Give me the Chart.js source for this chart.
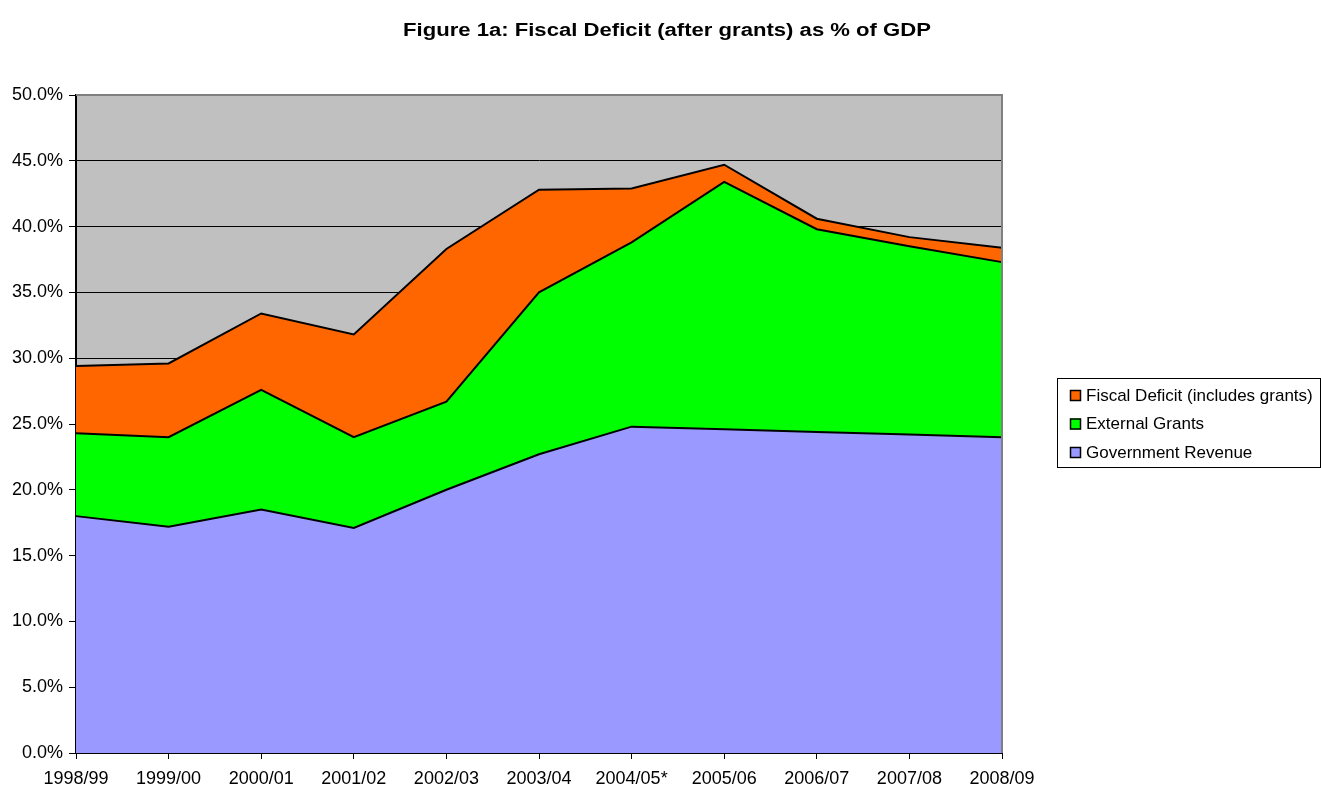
<!DOCTYPE html>
<html>
<head>
<meta charset="utf-8">
<title>Figure 1a: Fiscal Deficit (after grants) as % of GDP</title>
<script src="https://cdn.jsdelivr.net/npm/chart.js@4/dist/chart.umd.min.js"></script>
<style>
  html, body { margin: 0; padding: 0; background: #ffffff; }
  #wrap { position: relative; width: 1321px; height: 789px; }
</style>
</head>
<body>
<div id="wrap"><canvas id="c" width="1321" height="789"></canvas></div>
<script>
// Fiscal years
const years = ['1998/99', '1999/00', '2000/01', '2001/02', '2002/03', '2003/04',
               '2004/05*', '2005/06', '2006/07', '2007/08', '2008/09'];

// Shares of GDP (%), stacked bottom to top
const governmentRevenue = [18.0, 17.2, 18.5, 17.1, 20.0, 22.7, 24.8, 24.6, 24.4, 24.2, 24.0];
const externalGrants    = [6.3, 6.8, 9.1, 6.9, 6.7, 12.3, 14.0, 18.8, 15.4, 14.3, 13.3];
const fiscalDeficit     = [5.1, 5.6, 5.8, 7.8, 11.6, 7.8, 4.1, 1.3, 0.8, 0.7, 1.1];

const yTicks = [0, 5, 10, 15, 20, 25, 30, 35, 40, 45, 50];

const FONT = '"Liberation Sans", Arial, Helvetica, sans-serif';
const TITLE = 'Figure 1a: Fiscal Deficit (after grants) as % of GDP';

// Grey plot area with grey top/right frame
const plotBackground = {
  id: 'plotBackground',
  beforeDraw(chart) {
    const { ctx, chartArea: a } = chart;
    ctx.save();
    ctx.fillStyle = '#C0C0C0';
    ctx.fillRect(a.left, a.top, a.right - a.left, a.bottom - a.top);
    ctx.restore();
  },
  afterDatasetsDraw(chart) {
    const { ctx, chartArea: a } = chart;
    ctx.save();
    ctx.strokeStyle = '#808080';
    ctx.lineWidth = 2;
    ctx.beginPath();
    ctx.moveTo(a.left, a.top);
    ctx.lineTo(a.right, a.top);
    ctx.lineTo(a.right, a.bottom);
    ctx.stroke();
    ctx.restore();
  }
};

// Wide bold title above the plot
const titlePlugin = {
  id: 'titlePlugin',
  afterDraw(chart) {
    const { ctx } = chart;
    ctx.save();
    ctx.fillStyle = '#000';
    ctx.font = 'bold 18px ' + FONT;
    ctx.textAlign = 'center';
    ctx.textBaseline = 'middle';
    const sx = 528 / ctx.measureText(TITLE).width;
    ctx.translate(667, 31);
    ctx.scale(sx, 1);
    ctx.fillText(TITLE, 0, 0);
    ctx.restore();
  }
};

// Boxed legend to the right of the plot, top series first
const boxLegend = {
  id: 'boxLegend',
  afterDraw(chart) {
    const { ctx } = chart;
    const x = 1057, y = 378, w = 263, h = 89;
    ctx.save();
    ctx.strokeStyle = '#000';
    ctx.lineWidth = 1;
    ctx.strokeRect(x + 0.5, y + 0.5, w, h);
    ctx.font = '17px ' + FONT;
    ctx.textBaseline = 'middle';
    const items = chart.data.datasets.slice().reverse();
    items.forEach((ds, i) => {
      const cy = y + 17 + i * 28.5;
      ctx.fillStyle = ds.backgroundColor;
      ctx.fillRect(1070, cy - 5, 11, 11);
      ctx.strokeStyle = '#000';
      ctx.lineWidth = 1.5;
      ctx.strokeRect(1070.5, cy - 4.5, 10, 10);
      ctx.fillStyle = '#000';
      ctx.fillText(ds.label, 1086, cy + 1);
    });
    ctx.restore();
  }
};

const commonLine = {
  borderColor: '#000000',
  borderWidth: 2,
  pointRadius: 0,
  pointHoverRadius: 0,
  tension: 0
};

new Chart(document.getElementById('c'), {
  type: 'line',
  data: {
    labels: years,
    datasets: [
      Object.assign({ label: 'Government Revenue', data: governmentRevenue,
        backgroundColor: '#9999FF', fill: 'origin' }, commonLine),
      Object.assign({ label: 'External Grants', data: externalGrants,
        backgroundColor: '#00FF00', fill: '-1' }, commonLine),
      Object.assign({ label: 'Fiscal Deficit (includes grants)', data: fiscalDeficit,
        backgroundColor: '#FF6600', fill: '-1' }, commonLine)
    ]
  },
  options: {
    responsive: false,
    animation: false,
    events: [],
    layout: { padding: { left: 0, right: 319, top: 95, bottom: 0 } },
    plugins: {
      legend: { display: false },
      title: { display: false },
      tooltip: { enabled: false },
      filler: { propagate: false }
    },
    scales: {
      x: {
        offset: false,
        grid: {
          display: true,
          drawOnChartArea: false,
          drawTicks: true,
          tickLength: 6,
          tickColor: '#000000'
        },
        border: { display: true, color: '#000000', width: 2 },
        ticks: {
          color: '#000000',
          font: { family: FONT, size: 18 },
          padding: 9,
          maxRotation: 0,
          autoSkip: false
        },
        afterFit(scale) { scale.height = 36; }
      },
      y: {
        stacked: true,
        min: 0,
        max: 50,
        afterBuildTicks(scale) { scale.ticks = yTicks.map(v => ({ value: v })); },
        grid: {
          color(ctx) { return ctx.tick && ctx.tick.value === 50 ? '#808080' : '#000000'; },
          lineWidth: 1,
          tickLength: 7,
          tickColor: '#000000',
          drawTicks: true
        },
        border: { display: true, color: '#000000', width: 2 },
        ticks: {
          color: '#000000',
          font: { family: FONT, size: 18 },
          padding: 6,
          callback: v => Number(v).toFixed(1) + '%'
        },
        afterFit(scale) { scale.width = 76; }
      }
    }
  },
  plugins: [plotBackground, titlePlugin, boxLegend]
});
</script>
</body>
</html>
